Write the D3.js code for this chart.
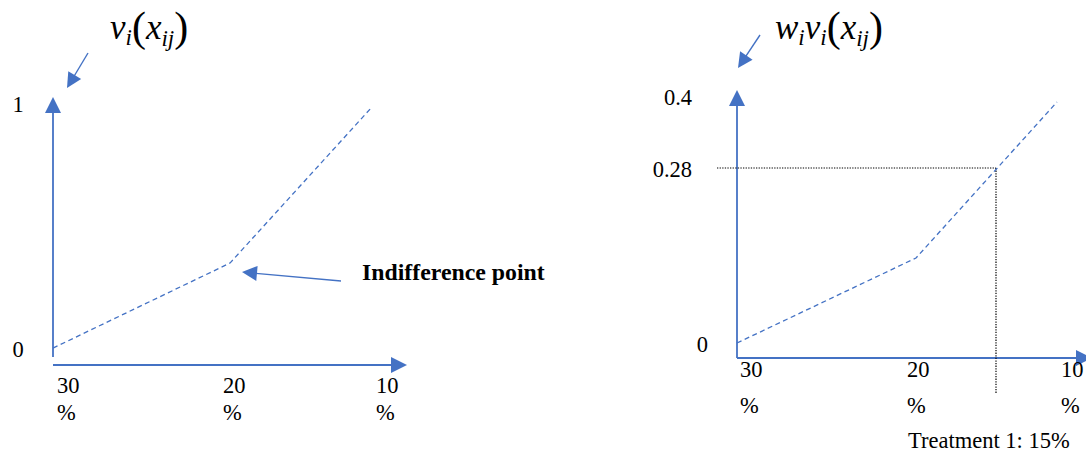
<!DOCTYPE html>
<html>
<head>
<meta charset="utf-8">
<script src="https://cdn.jsdelivr.net/npm/d3@7"></script>
<style>
  html, body { margin: 0; padding: 0; background: #fff; }
  svg { display: block; }
  text { font-family: "Liberation Serif", "Times New Roman", serif; fill: #000; }
</style>
</head>
<body>
<svg id="chart" width="1086" height="456"></svg>
<script>
// ---------------- data ----------------
const tickValues = [30, 20, 10];
const tickLabels = ["30", "20", "10"];
const tickUnit = "%";

// left panel: value function v_i(x_ij)
const leftPct = [30, 20, 10];
const leftVal = [0.016, 0.363, 1.0];
const leftYTicks = [0, 1];
const leftYLabels = ["0", "1"];
const indifferencePct = 20;
const indifferenceVal = 0.363;
const indifferenceLabel = "Indifference point";

// right panel: weighted value w_i v_i(x_ij)
const rightPct = [30, 20, 10];
const rightVal = [0.0, 0.136, 0.4];
const rightYTicks = [0.4, 0.28, 0];
const rightYLabels = ["0.4", "0.28", "0"];
const treatmentPct = 15;
const treatmentVal = 0.28;
const treatmentLabel = "Treatment 1: 15%";

// ---------------- drawing ----------------
const BLUE = "#4472C4";
const FS = 22.5;
const svg = d3.select("#chart");

// scales (hand-drawn diagram, so piecewise linear)
const xL = d3.scaleLinear().domain([30, 20, 10]).range([53, 230, 372]);
const yL = d3.scaleLinear().domain([0, 1]).range([352, 107]);
const xR = d3.scaleLinear().domain([30, 20, 15, 10]).range([737, 916, 996, 1057]);
const yR = d3.scaleLinear().domain([0, 0.28, 0.4]).range([343, 168, 102]);

function arrow(g, x1, y1, x2, y2, opt) {
  const o = Object.assign({ w: 1.6, len: 15, half: 7.5 }, opt || {});
  const dx = x2 - x1, dy = y2 - y1, L = Math.hypot(dx, dy);
  const ux = dx / L, uy = dy / L;
  const bx = x2 - ux * o.len, by = y2 - uy * o.len;
  g.append("line")
    .attr("x1", x1).attr("y1", y1).attr("x2", bx + ux * 1).attr("y2", by + uy * 1)
    .attr("stroke", BLUE).attr("stroke-width", o.w);
  g.append("path")
    .attr("d", `M${x2},${y2}L${bx - uy * o.half},${by + ux * o.half}L${bx + uy * o.half},${by - ux * o.half}Z`)
    .attr("fill", BLUE);
}

const line = (xs, ys) => d3.line().x(d => xs(d[0])).y(d => ys(d[1]));

function mathLabel(g, x, y, parts) {
  const t = g.append("text").attr("x", x).attr("y", y).attr("font-style", "italic");
  parts.forEach(p => {
    const s = t.append("tspan").attr("font-size", p.fs).attr("dy", p.dy || 0).text(p.t);
    if (p.normal) s.attr("font-style", "normal");
    if (p.dx) s.attr("dx", p.dx);
  });
}

// ===== Left panel =====
const gL = svg.append("g");
arrow(gL, xL(30), yL(0) + 5, xL(30), yL(1) - 10, { w: 1.8, len: 16, half: 8 });
arrow(gL, xL(30), yL(0) + 13, xL(10) + 35, yL(0) + 13, { w: 1.8, len: 16, half: 8 });
gL.append("path")
  .datum(leftPct.map((p, i) => [p, leftVal[i]]))
  .attr("d", line(xL, yL))
  .attr("fill", "none").attr("stroke", BLUE).attr("stroke-width", 1.3)
  .attr("stroke-dasharray", "5,3.5");
gL.selectAll("text.ylab").data(leftYTicks).join("text")
  .attr("class", "ylab")
  .attr("x", 18).attr("y", d => yL(d))
  .attr("text-anchor", "middle").attr("dominant-baseline", "middle")
  .attr("font-size", FS)
  .text((d, i) => leftYLabels[i]);
const leftTickX = d3.scaleLinear().domain([30, 20, 10]).range([57, 223, 376]);
gL.selectAll("text.xlab").data(tickValues).join("text")
  .attr("class", "xlab").attr("x", d => leftTickX(d)).attr("y", 393)
  .attr("font-size", FS).text((d, i) => tickLabels[i]);
gL.selectAll("text.xunit").data(tickValues).join("text")
  .attr("class", "xunit").attr("x", d => leftTickX(d)).attr("y", 420)
  .attr("font-size", FS).text(tickUnit);
arrow(gL, 341, 281, xL(indifferencePct) + 12, yL(indifferenceVal) + 9, { w: 1.4, len: 15, half: 7.5 });
gL.append("text")
  .attr("x", 362).attr("y", 280)
  .attr("font-size", 23.8).attr("font-weight", "bold")
  .text(indifferenceLabel);
mathLabel(gL, 110, 39, [
  { t: "v", fs: 35 },
  { t: "i", fs: 23, dy: 6 },
  { t: "(", fs: 42, normal: true, dy: -4 },
  { t: "x", fs: 35, dy: -2 },
  { t: "ij", fs: 23, dy: 7 },
  { t: ")", fs: 42, normal: true, dy: -5 }
]);
arrow(gL, 88, 53, 67, 88, { w: 1.4, len: 15, half: 7.5 });

// ===== Right panel =====
const gR = svg.append("g");
arrow(gR, xR(30), yR(0) + 15, xR(30), yR(0.4) - 12, { w: 1.8, len: 16, half: 8 });
arrow(gR, xR(30), yR(0) + 15, xR(10) + 35, yR(0) + 15, { w: 1.8, len: 16, half: 8 });
gR.append("line")
  .attr("x1", 717).attr("y1", yR(treatmentVal)).attr("x2", xR(treatmentPct)).attr("y2", yR(treatmentVal))
  .attr("stroke", "#000").attr("stroke-width", 1.2).attr("stroke-dasharray", "1.3,1.3");
gR.append("line")
  .attr("x1", xR(treatmentPct)).attr("y1", yR(treatmentVal)).attr("x2", xR(treatmentPct)).attr("y2", 393)
  .attr("stroke", "#000").attr("stroke-width", 1.2).attr("stroke-dasharray", "1.3,1.3");
gR.append("path")
  .datum(rightPct.map((p, i) => [p, rightVal[i]]))
  .attr("d", line(xR, yR))
  .attr("fill", "none").attr("stroke", BLUE).attr("stroke-width", 1.3)
  .attr("stroke-dasharray", "5,3.5");
gR.selectAll("text.ylab").data(rightYTicks).join("text")
  .attr("class", "ylab")
  .attr("x", d => d === 0 ? 708 : 692)
  .attr("y", d => yR(d) + (d === 0.4 ? -2 : 4))
  .attr("text-anchor", "end").attr("dominant-baseline", "middle")
  .attr("font-size", FS)
  .text((d, i) => rightYLabels[i]);
const rightTickX = d3.scaleLinear().domain([30, 20, 10]).range([740, 907, 1061]);
gR.selectAll("text.xlab").data(tickValues).join("text")
  .attr("class", "xlab").attr("x", d => rightTickX(d)).attr("y", 377)
  .attr("font-size", FS).text((d, i) => tickLabels[i]);
gR.selectAll("text.xunit").data(tickValues).join("text")
  .attr("class", "xunit").attr("x", d => rightTickX(d)).attr("y", 413)
  .attr("font-size", FS).text(tickUnit);
gR.append("text").attr("x", 908).attr("y", 448).attr("font-size", FS).text(treatmentLabel);
mathLabel(gR, 775, 39, [
  { t: "w", fs: 35 },
  { t: "i", fs: 23, dy: 6 },
  { t: "v", fs: 35, dy: -6 },
  { t: "i", fs: 23, dy: 6 },
  { t: "(", fs: 42, normal: true, dy: -4 },
  { t: "x", fs: 35, dy: -2 },
  { t: "ij", fs: 23, dy: 7 },
  { t: ")", fs: 42, normal: true, dy: -5 }
]);
arrow(gR, 760, 35, 738, 68, { w: 1.4, len: 15, half: 7.5 });
</script>
</body>
</html>
